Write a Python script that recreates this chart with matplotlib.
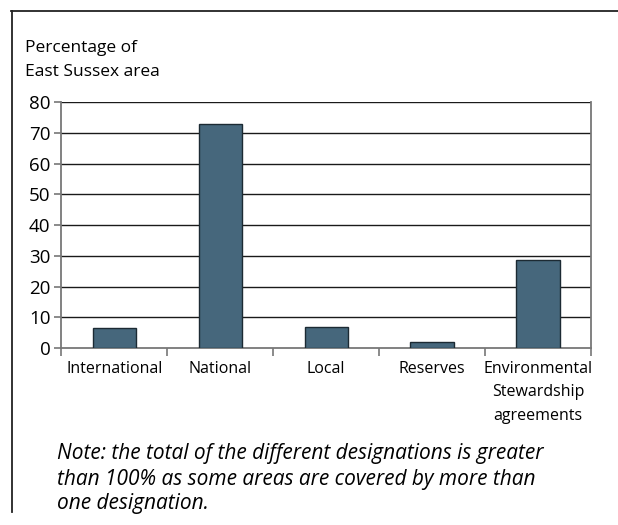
import numpy as np
import matplotlib
matplotlib.use("Agg")
import matplotlib.pyplot as plt
from matplotlib.lines import Line2D

# ---------------------------------------------------------------------------
# Data
# ---------------------------------------------------------------------------
categories = ["International", "National", "Local", "Reserves",
              "Environmental\nStewardship\nagreements"]
area_pct = [6.5, 72.8, 6.8, 1.9, 28.7]
y_ticks = [0, 10, 20, 30, 40, 50, 60, 70, 80]

BAR_COLOR = "#46677c"
BAR_EDGE = "#1c2a33"
GRID_COLOR = "#1a1a1a"
AXIS_GRAY = "#777777"

plt.rcParams["font.family"] = ["Open Sans", "DejaVu Sans"]

fig = plt.figure(figsize=(6.18, 5.25), dpi=100, facecolor="white")
ax = fig.add_axes([0.0995, 0.3371, 0.8568, 0.4686])

x = np.arange(len(categories))
ax.bar(x, area_pct, width=0.41, color=BAR_COLOR, edgecolor=BAR_EDGE,
       linewidth=1.0, zorder=3)

ax.set_xlim(-0.5, len(categories) - 0.5)
ax.set_ylim(0, 80)
ax.set_yticks(y_ticks)
ax.set_yticklabels([str(v) for v in y_ticks], fontsize=13.5)
for v in y_ticks[1:]:
    ax.axhline(v, color=GRID_COLOR, lw=1.0, zorder=1)

# category labels at bar centres, tick marks at the boundaries
ax.set_xticks(x)
ax.set_xticklabels(categories, fontsize=11.5, linespacing=1.65)
ax.tick_params(axis="x", which="major", length=0, pad=9)
ax.set_xticks(np.arange(-0.5, len(categories)), minor=True)
ax.tick_params(axis="x", which="minor", length=6, width=1.2,
               color=AXIS_GRAY, direction="out")
ax.tick_params(axis="y", length=5, width=1.2, color=AXIS_GRAY, pad=3)

ax.spines["top"].set_visible(False)
for side in ("left", "right", "bottom"):
    ax.spines[side].set_color(AXIS_GRAY)
    ax.spines[side].set_linewidth(1.3)

fig.text(25 / 618, 1 - 60 / 525, "Percentage of\nEast Sussex area",
         fontsize=12.5, va="center", ha="left", linespacing=1.7)

fig.text(57 / 618, 1 - 479 / 525,
         "Note: the total of the different designations is greater\n"
         "than 100% as some areas are covered by more than\n"
         "one designation.",
         fontsize=15, style="italic", va="center", ha="left",
         linespacing=1.25)

# frame around the figure: top and left edges only
fig.add_artist(Line2D([11 / 618, 1.0], [1 - 11 / 525, 1 - 11 / 525],
                      transform=fig.transFigure, color="#222222", lw=1.3))
fig.add_artist(Line2D([12 / 618, 12 / 618], [1 - 11 / 525, 1 - 512 / 525],
                      transform=fig.transFigure, color="#222222", lw=1.3))

fig.savefig("out.png", dpi=100, facecolor="white")
